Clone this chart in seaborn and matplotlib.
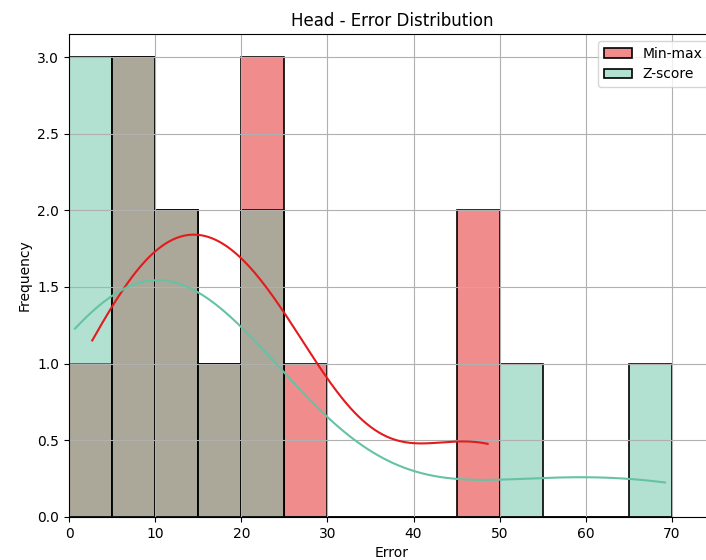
import numpy as np
import pandas as pd
import matplotlib
matplotlib.use("Agg")
import matplotlib.pyplot as plt
import seaborn as sns

# Absolute errors per sample for the "Head" target under two scalings
minmax_err = [2.7, 6.5, 8.0, 9.5, 12.0, 14.0, 17.0, 20.5, 22.0, 24.0, 27.0, 46.5, 48.6]
zscore_err = [0.7, 2.5, 4.5, 6.5, 8.0, 9.5, 11.5, 13.5, 17.5, 21.5, 23.5, 52.0, 69.2]

series_names = ["Min-max", "Z-score"]
series_colors = ["#e41a1c", "#66c2a5"]
bin_edges = list(range(0, 75, 5))

fig = plt.figure(figsize=(7.06, 5.6), dpi=100)
ax = fig.add_axes([69 / 706, 43 / 560, 646 / 706, 483 / 560])

for name, values, color in zip(series_names, [minmax_err, zscore_err], series_colors):
    sns.histplot(values, bins=bin_edges, kde=True, color=color, alpha=0.5,
                 edgecolor="black", linewidth=1.2, label=name, ax=ax)

# solid black bar outlines with translucent fill
for p in ax.patches:
    fc = p.get_facecolor()
    p.set_alpha(None)
    p.set_facecolor((fc[0], fc[1], fc[2], 0.5))
    p.set_edgecolor((0, 0, 0, 1))

ax.set_xlim(0, 75)
ax.set_title("Head - Error Distribution", fontsize=12)
ax.set_xlabel("Error")
ax.set_ylabel("Frequency")
ax.grid(True)
ax.legend(loc="upper right")

fig.savefig("out.png", dpi=100)
